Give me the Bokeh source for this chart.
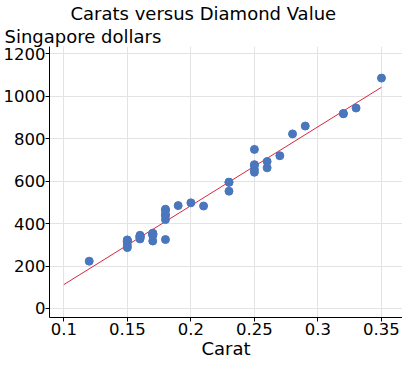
import numpy as np
from bokeh.plotting import figure
from bokeh.models import Title, FixedTicker, Range1d
from bokeh.embed import file_html
from bokeh.resources import INLINE

carat = [0.17, 0.16, 0.17, 0.18, 0.25, 0.16, 0.15, 0.19, 0.21, 0.15, 0.18, 0.28,
         0.16, 0.20, 0.23, 0.29, 0.12, 0.26, 0.25, 0.27, 0.18, 0.16, 0.17, 0.16,
         0.17, 0.18, 0.17, 0.18, 0.17, 0.15, 0.17, 0.32, 0.32, 0.15, 0.16, 0.16,
         0.23, 0.23, 0.17, 0.33, 0.25, 0.35, 0.18, 0.25, 0.25, 0.15, 0.26, 0.15]
price = [355, 328, 350, 325, 642, 342, 322, 485, 483, 323, 462, 823,
         336, 498, 595, 860, 223, 663, 750, 720, 468, 345, 352, 332,
         353, 438, 318, 419, 346, 315, 350, 918, 919, 298, 339, 338,
         595, 553, 345, 945, 655, 1086, 443, 678, 675, 287, 693, 316]
fit_x = [0.1, 0.35]
x_ticks = [0.1, 0.15, 0.2, 0.25, 0.3, 0.35]
y_ticks = [0, 200, 400, 600, 800, 1000, 1200]

FONT = "DejaVu Sans"

p = figure(frame_width=353, frame_height=271, output_backend="svg", toolbar_location=None,
           x_range=Range1d(0.08875, 0.36653), y_range=Range1d(-42.5, 1235),
           min_border_left=45, min_border_right=0, min_border_top=42, min_border_bottom=45)
p.title = None
p.add_layout(Title(text="Singapore dollars", align="left", offset=-45,
                   text_font=FONT, text_font_size="18px", text_font_style="normal",
                   text_color="black", standoff=0), "above")
p.add_layout(Title(text="Carats versus Diamond Value", align="left", offset=21,
                   text_font=FONT, text_font_size="18px", text_font_style="normal",
                   text_color="black", standoff=0), "above")

p.outline_line_color = None
for ax in (p.xaxis, p.yaxis):
    ax.major_label_text_font = FONT
    ax.major_label_text_font_size = "16.5px"
    ax.major_label_text_color = "black"
    ax.axis_line_color = "black"
    ax.major_tick_line_color = "black"
    ax.major_tick_out = 4
    ax.major_tick_in = 0
    ax.minor_tick_line_color = None
p.yaxis.major_label_standoff = 0
p.xaxis.major_label_standoff = 1
p.xaxis.ticker = FixedTicker(ticks=x_ticks)
p.yaxis.ticker = FixedTicker(ticks=y_ticks)
p.xaxis.axis_label = "Carat"
p.xaxis.axis_label_text_font = FONT
p.xaxis.axis_label_text_font_size = "18px"
p.xaxis.axis_label_text_font_style = "normal"
p.xaxis.axis_label_text_color = "black"
p.xaxis.axis_label_standoff = 0
p.xgrid.grid_line_color = "#e3e3e3"
p.ygrid.grid_line_color = "#e3e3e3"

slope, intercept = np.polyfit(carat, price, 1)
fit_y = [slope * x + intercept for x in fit_x]
p.line(fit_x, fit_y, line_color="#d7263d", line_width=1)
p.scatter(carat, price, size=8, fill_color="#4a76bd", line_color="#4a76bd")

open("out.html", "w").write(file_html(p, INLINE))
